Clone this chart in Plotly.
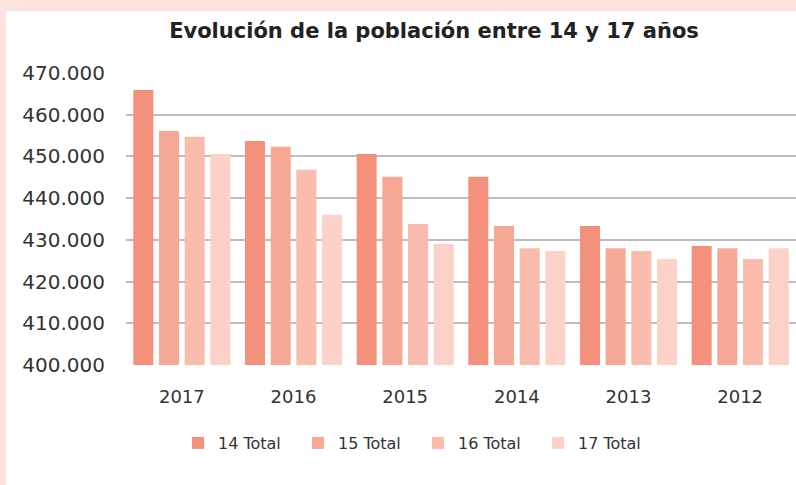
import plotly.graph_objects as go

years = ["2017", "2016", "2015", "2014", "2013", "2012"]
s14 = [465900, 453700, 450600, 445100, 433300, 428500]
s15 = [456100, 452300, 445100, 433300, 428000, 428000]
s16 = [454700, 446800, 433800, 428000, 427300, 425400]
s17 = [450600, 436000, 429000, 427300, 425400, 428000]
names = ["14 Total", "15 Total", "16 Total", "17 Total"]
colors = ["#F4917C", "#F7A895", "#FABCAD", "#FCD2C8"]

FONT = "DejaVu Sans"
W, H = 796, 485
L, R, T, B = 126, 0, 73, 120

fig = go.Figure()
for nm, vals, c in zip(names, [s14, s15, s16, s17], colors):
    fig.add_trace(go.Bar(x=years, y=vals, name=nm, marker=dict(color=c, line=dict(width=0))))

pw = W - L - R
ph = H - T - B
# pink frame (left and top strips)
fig.add_shape(type="rect", xref="paper", yref="paper", layer="below",
              x0=-L / pw, x1=(W - L) / pw, y0=1 + (T - 11) / ph, y1=1 + T / ph,
              fillcolor="#FDE4E0", line=dict(width=0))
fig.add_shape(type="rect", xref="paper", yref="paper", layer="below",
              x0=-L / pw, x1=(6 - L) / pw, y0=-B / ph, y1=1 + T / ph,
              fillcolor="#FDE4E0", line=dict(width=0))

fig.update_layout(
    width=W, height=H,
    margin=dict(l=L, r=R, t=T, b=B, pad=0, autoexpand=False),
    paper_bgcolor="white", plot_bgcolor="white",
    separators=",.",
    barmode="group", bargap=0.08, bargroupgap=0.22,
    font=dict(family=FONT, color="#333333"),
    title=dict(text="<b>Evolución de la población entre 14 y 17 años</b>",
               x=434 / W, xanchor="center", y=1 - 31 / H, yanchor="middle",
               yref="container", font=dict(size=21, color="#222222", family=FONT)),
    xaxis=dict(showgrid=False, showline=False, ticks="", ticklabelstandoff=19,
               automargin=False, tickfont=dict(size=18, color="#333333")),
    yaxis=dict(range=[400000, 470000], dtick=10000, tickformat=",d",
               showgrid=True, gridcolor="#BDBDBD", gridwidth=2,
               zeroline=False, showline=False, ticks="", ticklabelstandoff=20,
               automargin=False, tickfont=dict(size=20, color="#333333")),
    legend=dict(orientation="h", x=418 / W, xref="container", xanchor="center",
                y=1 - 443 / H, yref="container", yanchor="middle",
                font=dict(size=16, color="#333333"), entrywidth=75, entrywidthmode="pixels",
                traceorder="normal"),
)
fig.write_html("out.html", config={"displayModeBar": False},
               post_script="document.body.style.margin='0';document.body.style.padding='0';")
